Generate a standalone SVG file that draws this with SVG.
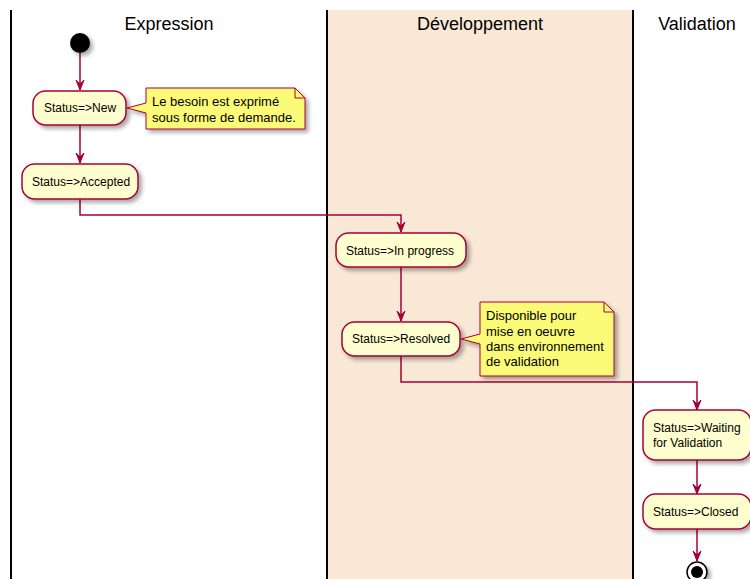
<svg xmlns="http://www.w3.org/2000/svg" width="750" height="579" viewBox="0 0 750 579">
<defs>
<filter id="sh" x="-20%" y="-20%" width="150%" height="160%">
<feGaussianBlur in="SourceAlpha" stdDeviation="2"/>
<feOffset dx="3" dy="3" result="b"/>
<feComponentTransfer><feFuncA type="linear" slope="0.35"/></feComponentTransfer>
<feMerge><feMergeNode/><feMergeNode in="SourceGraphic"/></feMerge>
</filter>
<marker id="ah" viewBox="0 0 10 10" refX="10" refY="5" markerWidth="10" markerHeight="10" markerUnits="userSpaceOnUse" orient="auto">
<path d="M0,1 L10,5 L0,9 L4,5 Z" fill="#A80036" stroke="#A80036" stroke-width="1"/>
</marker>
</defs>
<style>
.lane{stroke:#000;stroke-width:2}
.title{font-family:"Liberation Sans",Arial,sans-serif;font-size:18px;fill:#000;text-anchor:middle}
.box{fill:#FEFECE;stroke:#A80036;stroke-width:1.5}
.note{fill:#FBFB77;stroke:#A80036;stroke-width:1}
.t{font-family:"Liberation Sans",Arial,sans-serif;font-size:12px;fill:#000}
.nt{font-family:"Liberation Sans",Arial,sans-serif;font-size:13px;fill:#000}
.c{fill:none;stroke:#A80036;stroke-width:1.5;marker-end:url(#ah)}
</style>
<rect width="750" height="579" fill="#FFFFFF"/>
<g id="lanes">
<rect x="327" y="10" width="306" height="569" fill="#F8E8D5"/>
<line class="lane" x1="11" y1="10" x2="11" y2="579"/>
<line class="lane" x1="327" y1="10" x2="327" y2="579"/>
<line class="lane" x1="633" y1="10" x2="633" y2="579"/>
<text class="title" x="169" y="30">Expression</text>
<text class="title" x="480" y="30">Développement</text>
<text class="title" x="697" y="30">Validation</text>
</g>
<g id="connectors">
<path class="c" d="M80,53 L80,90"/>
<path class="c" d="M80,125 L80,163"/>
<path class="c" d="M80,199 L80,215 L401,215 L401,232"/>
<path class="c" d="M401,267 L401,321"/>
<path class="c" d="M401,356 L401,382 L697,382 L697,410"/>
<path class="c" d="M697,460 L697,494"/>
<path class="c" d="M697,529 L697,561"/>
</g>
<g id="start">
<circle cx="80" cy="43" r="10" fill="#000" filter="url(#sh)"/>
</g>
<g id="n-new">
<rect class="box" x="33" y="91" width="93" height="34" rx="12.5" filter="url(#sh)"/>
<text class="t" x="44" y="112">Status=&gt;New</text>
</g>
<g id="note1">
<path class="note" d="M146,88 L295,88 L305,98 L305,129 L146,129 L146,113 L127,108 L146,103 Z" filter="url(#sh)"/>
<path d="M295,88 L295,98 L305,98" fill="none" stroke="#A80036" stroke-width="1"/>
<text class="nt" x="152" y="106">Le besoin est exprimé</text>
<text class="nt" x="152" y="122">sous forme de demande.</text>
</g>
<g id="n-accepted">
<rect class="box" x="22" y="164" width="116" height="35" rx="12.5" filter="url(#sh)"/>
<text class="t" x="32" y="186">Status=&gt;Accepted</text>
</g>
<g id="n-inprogress">
<rect class="box" x="336" y="233" width="130" height="34" rx="12.5" filter="url(#sh)"/>
<text class="t" x="346" y="255">Status=&gt;In progress</text>
</g>
<g id="n-resolved">
<rect class="box" x="342" y="322" width="118" height="34" rx="12.5" filter="url(#sh)"/>
<text class="t" x="352" y="343">Status=&gt;Resolved</text>
</g>
<g id="note2">
<path class="note" d="M480,302 L604,302 L614,312 L614,376 L480,376 L480,344 L461,339 L480,334 Z" filter="url(#sh)"/>
<path d="M604,302 L604,312 L614,312" fill="none" stroke="#A80036" stroke-width="1"/>
<text class="nt" x="486" y="320">Disponible pour</text>
<text class="nt" x="486" y="336">mise en oeuvre</text>
<text class="nt" x="486" y="351">dans environnement</text>
<text class="nt" x="486" y="366">de validation</text>
</g>
<g id="n-waiting">
<rect class="box" x="643" y="410" width="108" height="50" rx="12.5" filter="url(#sh)"/>
<text class="t" x="653" y="432">Status=&gt;Waiting</text>
<text class="t" x="653" y="447">for Validation</text>
</g>
<g id="n-closed">
<rect class="box" x="643" y="494" width="108" height="35" rx="12.5" filter="url(#sh)"/>
<text class="t" x="653" y="516">Status=&gt;Closed</text>
</g>
<g id="end">
<circle cx="697" cy="572" r="10" fill="#FFFFFF" stroke="#000" stroke-width="1.5" filter="url(#sh)"/>
<circle cx="697" cy="572" r="6" fill="#000"/>
</g>
</svg>
